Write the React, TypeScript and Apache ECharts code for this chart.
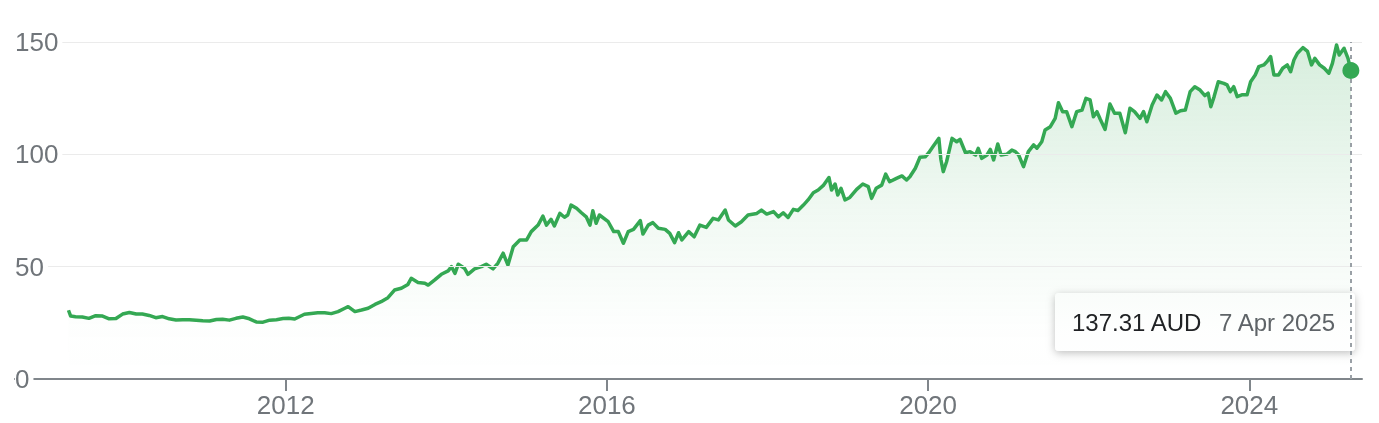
import React, { useEffect, useRef } from 'react';
import * as echarts from 'echarts';

const dates = [
  '2009-04-18','2009-04-28','2009-05-20','2009-06-20','2009-07-20','2009-08-20','2009-09-20','2009-10-20','2009-11-20','2009-12-20',
  '2010-01-20','2010-02-20','2010-03-20','2010-04-20','2010-05-20','2010-06-20','2010-07-20','2010-08-20','2010-09-20','2010-10-20','2010-11-20','2010-12-20',
  '2011-01-20','2011-02-20','2011-03-20','2011-04-20','2011-05-20','2011-06-20','2011-07-20','2011-08-20','2011-09-20','2011-10-20','2011-11-20','2011-12-20',
  '2012-01-15','2012-02-11','2012-03-26','2012-04-26','2012-05-26','2012-06-26','2012-07-26','2012-08-26','2012-09-26','2012-10-11','2012-11-11','2012-12-11',
  '2013-01-10','2013-02-10','2013-03-10','2013-04-10','2013-05-10','2013-06-10','2013-07-10','2013-07-25','2013-08-25','2013-09-25','2013-10-10','2013-11-09','2013-12-09',
  '2014-01-09','2014-01-24','2014-02-09','2014-02-24','2014-03-24','2014-04-09','2014-05-09','2014-06-09','2014-07-01','2014-08-01','2014-08-23','2014-09-16','2014-10-08','2014-11-01','2014-12-01',
  '2015-01-01','2015-01-22','2015-02-22','2015-03-16','2015-04-01','2015-04-22','2015-05-07','2015-06-01','2015-06-22','2015-07-07','2015-07-22','2015-08-16','2015-09-07','2015-09-29','2015-10-16','2015-10-29','2015-11-13','2015-11-28',
  '2016-01-07','2016-02-01','2016-02-22','2016-03-16','2016-04-07','2016-05-01','2016-06-01','2016-06-13','2016-07-07','2016-07-28','2016-08-22','2016-09-22','2016-10-13','2016-11-04','2016-11-22','2016-12-07',
  '2017-01-07','2017-02-01','2017-02-27','2017-03-28','2017-04-28','2017-05-22','2017-06-22','2017-07-07','2017-08-07','2017-09-04','2017-10-04','2017-11-13','2017-12-04','2017-12-28',
  '2018-01-28','2018-02-19','2018-03-13','2018-04-04','2018-04-28','2018-05-19','2018-06-13','2018-07-04','2018-07-28','2018-08-19','2018-09-13','2018-10-07','2018-10-19','2018-11-04','2018-11-16','2018-12-01','2018-12-19',
  '2019-01-10','2019-02-10','2019-03-10','2019-04-04','2019-04-19','2019-05-10','2019-06-04','2019-06-22','2019-07-10','2019-08-10','2019-09-04','2019-09-25','2019-10-10','2019-11-04','2019-11-25','2019-12-19',
  '2020-01-04','2020-01-25','2020-02-19','2020-02-28','2020-03-10','2020-03-25','2020-04-19','2020-05-10','2020-05-25','2020-06-19','2020-07-10','2020-08-04','2020-08-16','2020-09-01','2020-09-25','2020-10-10','2020-10-25','2020-11-13','2020-11-28','2020-12-25',
  '2021-01-16','2021-02-01','2021-02-16','2021-03-10','2021-04-01','2021-04-25','2021-05-10','2021-06-01','2021-06-16','2021-07-10','2021-08-01','2021-08-16','2021-09-04','2021-09-22','2021-10-16','2021-11-07','2021-12-01','2021-12-19',
  '2022-01-07','2022-01-22','2022-02-07','2022-02-22','2022-03-16','2022-04-07','2022-04-28','2022-05-22','2022-06-16','2022-07-07','2022-07-28','2022-08-22','2022-09-07','2022-09-22','2022-10-16','2022-11-07','2022-11-28','2022-12-16',
  '2023-01-07','2023-02-01','2023-02-22','2023-03-16','2023-04-07','2023-04-28','2023-05-22','2023-06-13','2023-06-28','2023-07-10','2023-07-25','2023-08-13','2023-09-07','2023-09-22','2023-10-07','2023-10-22','2023-11-07','2023-11-28','2023-12-22',
  '2024-01-07','2024-01-28','2024-02-13','2024-03-07','2024-03-22','2024-04-07','2024-04-22','2024-05-13','2024-06-01','2024-06-22','2024-07-07','2024-07-22','2024-08-07','2024-09-01','2024-09-22','2024-10-10','2024-10-25','2024-11-16','2024-12-07','2024-12-28',
  '2025-01-13','2025-02-01','2025-02-13','2025-03-07','2025-03-25','2025-04-07'
];

const prices = [
  30.6,28.0,27.7,27.6,27.0,28.2,28.0,26.8,26.9,28.9,
  29.6,28.9,28.9,28.3,27.3,27.8,26.8,26.3,26.4,26.4,26.2,25.9,
  25.8,26.5,26.6,26.2,27.0,27.6,26.8,25.4,25.3,26.2,26.4,26.9,
  27.0,26.7,28.8,29.2,29.5,29.5,29.1,30.0,31.5,32.2,30.0,30.7,
  31.5,33.2,34.4,36.2,39.6,40.4,42.1,44.8,43.0,42.6,41.8,44.1,46.6,
  48.1,50.0,47.0,51.1,49.3,46.6,49.0,50.0,51.1,49.0,51.5,56.0,50.7,58.9,61.9,
  61.9,65.6,68.5,72.5,68.5,71.1,68.1,73.7,72.0,73.0,77.4,76.0,74.0,72.2,68.5,74.9,69.3,73.0,
  70.0,65.6,65.6,60.4,65.6,66.6,70.5,64.5,68.5,69.6,67.1,66.6,64.8,60.7,65.1,61.9,
  65.6,63.3,68.5,67.5,71.5,70.8,75.2,70.8,68.1,70.0,73.0,73.7,75.2,73.4,
  74.5,72.2,74.0,71.9,75.5,75.0,77.4,79.7,82.9,84.1,86.3,89.7,84.1,86.8,81.9,84.9,79.7,
  80.8,84.4,86.8,85.6,80.4,84.9,86.3,91.2,87.8,89.3,90.4,88.6,90.0,93.8,98.7,98.9,
  100.7,103.7,107.1,97.8,92.3,96.7,107.1,105.6,106.7,100.7,101.2,99.7,102.7,98.2,99.7,102.2,97.5,104.6,99.7,100.1,
  101.9,101.2,99.7,94.5,101.2,104.2,102.7,105.6,110.8,112.3,116.0,123.0,119.0,119.0,112.3,119.0,119.7,124.9,
  124.2,116.7,119.0,115.6,111.1,122.4,118.3,118.3,109.6,120.5,119.0,116.0,119.0,114.5,122.0,126.4,124.2,127.9,
  124.9,118.3,119.4,119.7,127.9,130.1,128.6,126.1,127.2,121.2,125.7,132.3,131.6,130.9,127.9,130.1,125.7,126.5,126.5,
  132.3,135.3,139.0,139.8,141.3,143.5,135.3,135.3,138.3,139.8,136.8,142.0,145.0,147.5,145.8,139.8,142.7,139.8,138.3,136.1,
  140.5,148.7,144.2,147.2,142.7,137.31
];

const yTicks = [0, 50, 100, 150];
const xTickYears = [2012, 2016, 2020, 2024];
const lastPriceLabel = '137.31 AUD';
const lastDateLabel = '7 Apr 2025';

const FONT = '"Liberation Sans", Arial, Helvetica, sans-serif';

export default function App() {
  const ref = useRef<HTMLDivElement>(null);
  useEffect(() => {
    if (!ref.current) return;
    const chart = echarts.init(ref.current, null, { renderer: 'svg' });
    const data = dates.map((d, i) => [Date.parse(d), prices[i]]);
    const last = data[data.length - 1];
    const t2012 = Date.UTC(2012, 0, 1);
    const t2024 = Date.UTC(2024, 0, 1);
    const yearMs = (t2024 - t2012) / 12;
    const xMin = t2012 - 3.371 * yearMs;
    const xMax = t2024 + 1.4035 * yearMs;
    const tickVals = xTickYears.map((y) => Date.UTC(y, 0, 1));

    chart.setOption({
      animation: false,
      grid: { left: 15, right: 17, top: 42, bottom: 44 },
      xAxis: {
        type: 'value',
        min: xMin,
        max: xMax,
        z: 0,
        axisLine: { show: true, onZero: false, lineStyle: { color: '#80868b', width: 2 } },
        axisTick: { show: true, customValues: tickVals, length: 12, lineStyle: { color: '#80868b', width: 2 } },
        axisLabel: {
          customValues: tickVals,
          formatter: (v: number) => String(new Date(v).getUTCFullYear()),
          color: '#70757a',
          fontSize: 26,
          fontFamily: FONT,
          margin: 13,
        },
        splitLine: { show: false },
      },
      yAxis: {
        type: 'value',
        min: yTicks[0],
        max: yTicks[yTicks.length - 1],
        interval: yTicks[1] - yTicks[0],
        z: 3,
        axisLine: { show: false },
        axisTick: { show: false },
        splitLine: { show: true, showMinLine: false, lineStyle: { color: '#ebebeb', width: 1 } },
        axisLabel: {
          inside: true,
          margin: 0,
          color: '#70757a',
          fontSize: 26,
          fontFamily: FONT,
          backgroundColor: '#ffffff',
          padding: [0, 4, 0, 0],
        },
      },
      series: [
        {
          type: 'line',
          data,
          showSymbol: false,
          symbol: 'none',
          z: 2,
          lineStyle: { color: '#34a853', width: 3.5, join: 'round' },
          itemStyle: { color: '#34a853' },
          areaStyle: {
            color: new echarts.graphic.LinearGradient(0, 0, 0, 1, [
              { offset: 0, color: 'rgba(52,168,83,0.28)' },
              { offset: 0.5, color: 'rgba(52,168,83,0.1)' },
              { offset: 0.85, color: 'rgba(52,168,83,0.01)' },
              { offset: 1, color: 'rgba(52,168,83,0)' },
            ]),
          },
          markLine: {
            silent: true,
            symbol: ['none', 'none'],
            label: { show: false },
            lineStyle: { color: '#9aa0a6', type: [4, 4], width: 2 },
            data: [{ xAxis: last[0] }],
          },
        },
        {
          type: 'scatter',
          data: [last],
          symbolSize: 17,
          z: 5,
          itemStyle: { color: '#34a853', opacity: 1 },
        },
      ],
      graphic: [
        {
          type: 'group',
          z: 100,
          children: [
            {
              type: 'rect',
              shape: { x: 1055, y: 293, width: 300, height: 58, r: 4 },
              style: { fill: '#ffffff', shadowBlur: 8, shadowColor: 'rgba(0,0,0,0.25)', shadowOffsetY: 2 },
            },
            {
              type: 'text',
              x: 1072,
              y: 322,
              style: { text: lastPriceLabel, font: `24px ${FONT}`, fill: '#202124', verticalAlign: 'middle' },
            },
            {
              type: 'text',
              x: 1219,
              y: 322,
              style: { text: lastDateLabel, font: `24px ${FONT}`, fill: '#5f6368', verticalAlign: 'middle' },
            },
          ],
        },
      ],
    });
    return () => chart.dispose();
  }, []);
  return <div ref={ref} style={{ position: 'fixed', left: 0, top: 0, width: 1379, height: 423 }} />;
}
